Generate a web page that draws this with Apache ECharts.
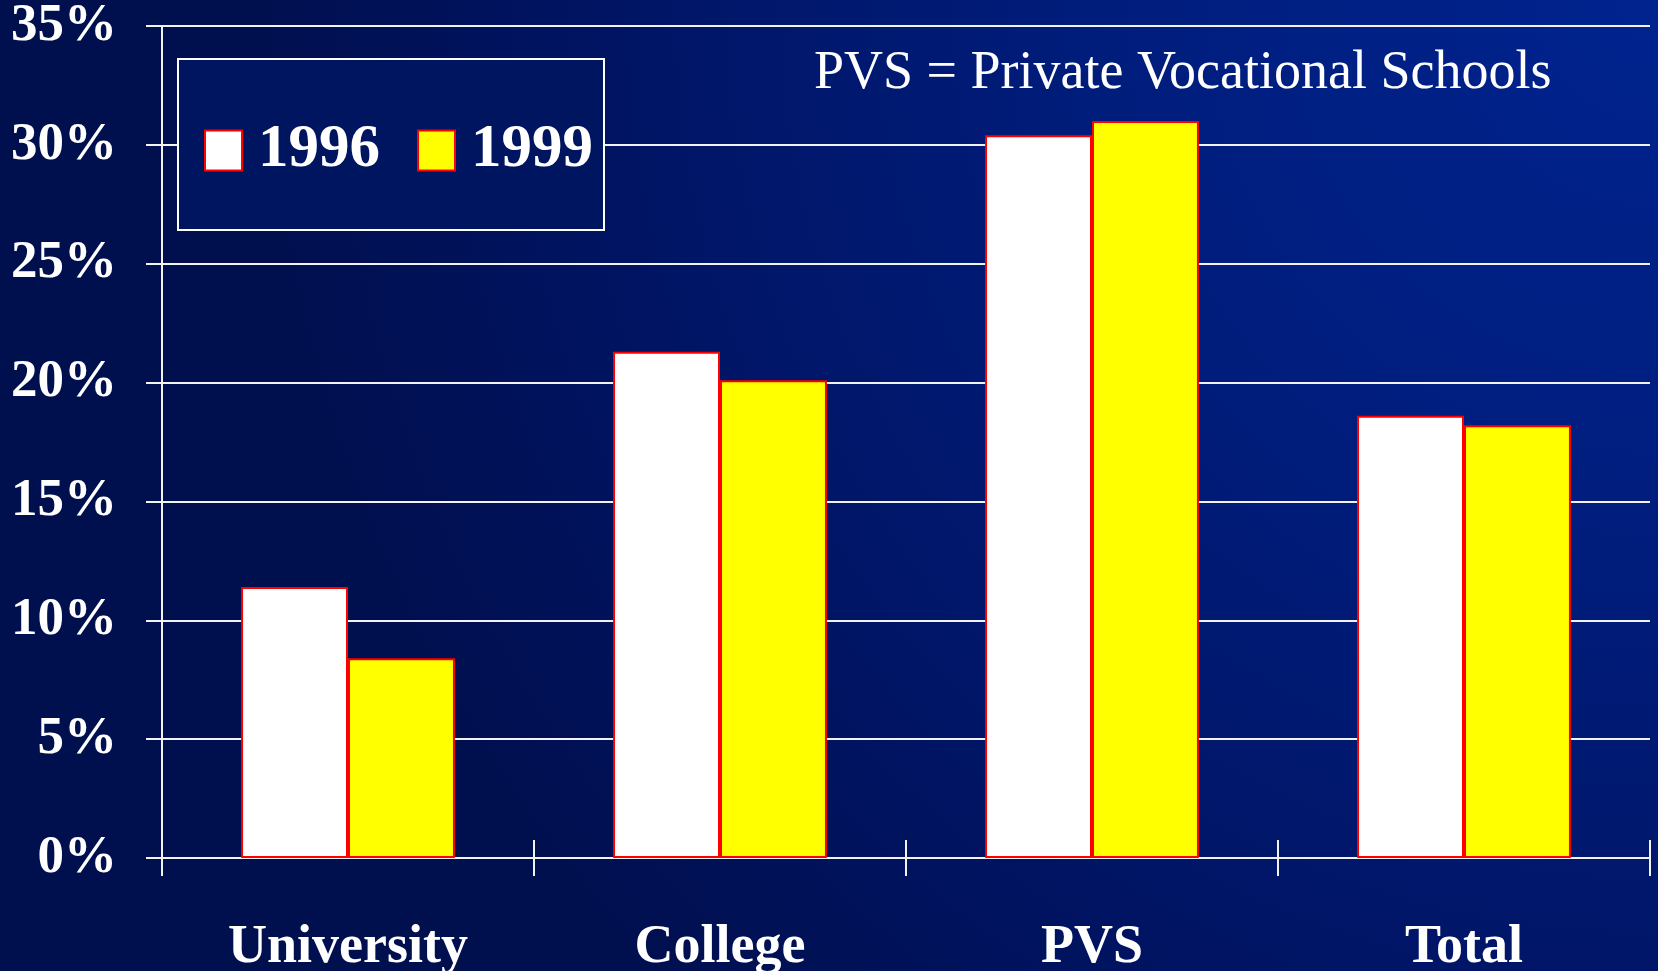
<!DOCTYPE html>
<html>
<head>
    <meta charset="UTF-8">
    <title>Share by school type, 1996 vs 1999</title>
    <script src="https://cdn.jsdelivr.net/npm/echarts@6/dist/echarts.min.js"></script>
    <style>
        html, body { margin: 0; padding: 0; }
        #chart { width: 1658px; height: 971px; }
    </style>
</head>
<body>
    <div id="chart"></div>
    <script>
        // values (percent)
        var categories = ['University', 'College', 'PVS', 'Total'];
        var years = ['1996', '1999'];
        var values1996 = [11.4, 21.3, 30.4, 18.6];
        var values1999 = [8.4, 20.1, 31.0, 18.2];
        var note = 'PVS = Private Vocational Schools';

        var serif = '"Liberation Serif", "Times New Roman", serif';
        var lineColor = '#f2f2f2';

        var chart = echarts.init(document.getElementById('chart'), null, {renderer: 'canvas'});

        var option = {
            animation: false,
            backgroundColor: {
                type: 'radial', x: 1, y: 0, r: 1.45,
                colorStops: [
                    {offset: 0, color: '#00238e'},
                    {offset: 0.4, color: '#001d7c'},
                    {offset: 0.75, color: '#001463'},
                    {offset: 1, color: '#000f4e'}
                ]
            },
            grid: {left: 162, right: 8, top: 26, bottom: 113, containLabel: false, outerBoundsMode: 'none'},
            legend: {
                data: years,
                left: 178,
                top: 59,
                orient: 'horizontal',
                icon: 'rect',
                itemWidth: 37,
                itemHeight: 40,
                itemGap: 37,
                padding: [61, 11, 49, 26],
                backgroundColor: '#00155f',
                borderColor: '#ffffff',
                borderWidth: 2,
                textStyle: {
                    color: '#ffffff',
                    fontFamily: serif,
                    fontWeight: 'bold',
                    fontSize: 61,
                    padding: [0, 0, 0, 11]
                }
            },
            graphic: [{
                type: 'text',
                left: 814,
                top: 47,
                style: {
                    text: note,
                    fill: '#ffffff',
                    font: '54px ' + serif
                }
            }],
            xAxis: [{
                type: 'category',
                data: categories,
                position: 'bottom',
                axisLine: {lineStyle: {color: lineColor, width: 2}},
                axisTick: {show: true, inside: false, length: 18, lineStyle: {color: lineColor, width: 2}},
                axisLabel: {
                    color: '#ffffff',
                    fontFamily: serif,
                    fontWeight: 'bold',
                    fontSize: 54,
                    margin: 63
                },
                splitLine: {show: false}
            }, {
                // second copy only to draw the tick marks above the axis line
                type: 'category',
                data: categories,
                position: 'bottom',
                axisLine: {show: false},
                axisTick: {show: true, inside: true, length: 18, lineStyle: {color: lineColor, width: 2}},
                axisLabel: {show: false},
                splitLine: {show: false}
            }],
            yAxis: {
                type: 'value',
                min: 0,
                max: 35,
                interval: 5,
                axisLine: {show: true, lineStyle: {color: lineColor, width: 2}},
                axisTick: {show: true, length: 16, lineStyle: {color: lineColor, width: 2}},
                splitLine: {lineStyle: {color: lineColor, width: 2}},
                axisLabel: {
                    formatter: '{value}%',
                    color: '#ffffff',
                    fontFamily: serif,
                    fontWeight: 'bold',
                    fontSize: 53,
                    margin: 45
                }
            },
            series: [{
                name: years[0],
                type: 'bar',
                data: values1996,
                barGap: '0%',
                barCategoryGap: '42.5%',
                itemStyle: {color: '#ffffff', borderColor: '#ff0000', borderWidth: 2}
            }, {
                name: years[1],
                type: 'bar',
                data: values1999,
                itemStyle: {color: '#ffff00', borderColor: '#ff0000', borderWidth: 2}
            }]
        };

        chart.setOption(option);
    </script>
</body>
</html>
